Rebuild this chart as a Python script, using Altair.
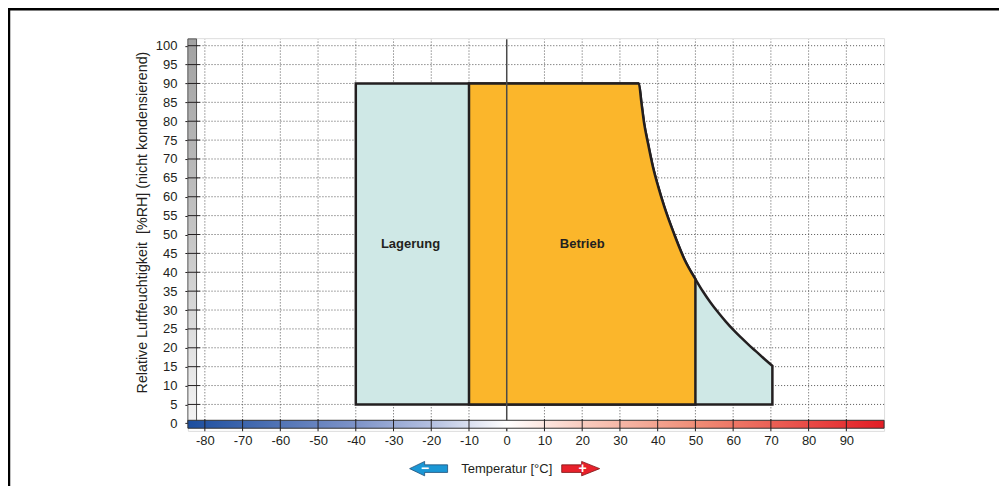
import altair as alt
import pandas as pd

# ---- data ----
x_ticks = [-80, -70, -60, -50, -40, -30, -20, -10, 0, 10, 20, 30, 40, 50, 60, 70, 80, 90]
y_ticks = [0, 5, 10, 15, 20, 25, 30, 35, 40, 45, 50, 55, 60, 65, 70, 75, 80, 85, 90, 95, 100]

# Lagerung (storage) upper boundary: temperature [°C] / rel. humidity [%RH]
lager_t = [-40, 35, 35.7, 36.4, 37.4, 38.7, 40.1, 41.7, 44.4, 47.1, 50.0,
           52.0, 54.0, 56.0, 58.0, 60.0, 62.0, 64.0, 66.0, 68.0, 70.4]
lager_rh = [90, 90, 84.8, 79.5, 74.3, 68.1, 62.8, 57.5, 50.0, 43.4, 38.2,
            34.9, 32.0, 29.4, 27.0, 24.8, 22.8, 20.9, 19.1, 17.3, 15.2]
# Betrieb (operation) upper boundary
betrieb_t = [-10, 35, 35.7, 36.4, 37.4, 38.7, 40.1, 41.7, 44.4, 47.1, 50.0]
betrieb_rh = [90, 90, 84.8, 79.5, 74.3, 68.1, 62.8, 57.5, 50.0, 43.4, 38.2]
rh_min = 5

region_labels = ["Lagerung", "Betrieb"]
region_label_t = [-25.5, 20.0]
region_label_rh = [47.4, 47.4]

X_MIN, X_MAX = -84.5, 100
Y_MIN, Y_MAX = -2, 102

FONT = "Liberation Sans, Arial, Helvetica, sans-serif"
INK = "#231f20"

xs = alt.Scale(domain=[X_MIN, X_MAX], nice=False, zero=False)
ys = alt.Scale(domain=[Y_MIN, Y_MAX], nice=False, zero=False)

xaxis = alt.Axis(values=x_ticks, ticks=False, domain=False, grid=False, title=None,
                 labelExpr="'' + datum.value", labelFont=FONT, labelFontSize=13,
                 labelColor=INK, labelPadding=4)
yaxis = alt.Axis(values=y_ticks, tickSize=3, tickColor=INK, domain=False, grid=False,
                 labelExpr="'' + datum.value", labelFont=FONT, labelFontSize=13,
                 labelColor=INK, labelPadding=8,
                 title="Relative Luftfeuchtigkeit \u00a0[%RH] (nicht kondensierend)",
                 titleFont=FONT, titleFontSize=14.3, titleFontWeight="normal", titleColor=INK,
                 titleX=-45, titleY=184, titleAngle=270, titleAlign="center",
                 titleBaseline="middle")


def X(f):
    return alt.X(f, type="quantitative", scale=xs, axis=xaxis)


def Y(f):
    return alt.Y(f, type="quantitative", scale=ys, axis=yaxis)


grid_dash = [1, 2]

# vertical dotted grid
vgrid_df = pd.DataFrame({"t": [t for t in x_ticks if t != 0]})
vgrid_df["y0"] = 0.8
vgrid_df["y1"] = 101.7
vgrid = alt.Chart(vgrid_df).mark_rule(color="#555555", strokeWidth=1, strokeDash=grid_dash).encode(
    x=X("t"), y=Y("y0"), y2="y1")

# horizontal dotted grid
hgrid_df = pd.DataFrame({"rh": [v for v in y_ticks if v != 0]})
hgrid_df["x0"] = -82.2
hgrid_df["x1"] = X_MAX
hgrid = alt.Chart(hgrid_df).mark_rule(color="#555555", strokeWidth=1, strokeDash=grid_dash).encode(
    x=X("x0"), x2="x1", y=Y("rh"))

# regions
lager_df = pd.DataFrame({"t": lager_t, "rh": lager_rh})
lager_df["base"] = rh_min
lager = alt.Chart(lager_df).mark_area(fill="#cfe8e6", stroke=INK, strokeWidth=2.5,
                                      strokeJoin="miter", interpolate="monotone").encode(
    x=X("t"), y=Y("rh"), y2="base")

betrieb_df = pd.DataFrame({"t": betrieb_t, "rh": betrieb_rh})
betrieb_df["base"] = rh_min
betrieb = alt.Chart(betrieb_df).mark_area(fill="#fbb62b", stroke=INK, strokeWidth=2.5,
                                          strokeJoin="miter", interpolate="monotone").encode(
    x=X("t"), y=Y("rh"), y2="base")

# zero line
zero_df = pd.DataFrame({"t": [0], "y0": [-2.1], "y1": [101.7]})
zero = alt.Chart(zero_df).mark_rule(color="#4a4a4a", strokeWidth=1.5).encode(
    x=X("t"), y=Y("y0"), y2="y1")

# region labels
lab_df = pd.DataFrame({"label": region_labels, "t": region_label_t, "rh": region_label_rh})
labels = alt.Chart(lab_df).mark_text(font=FONT, fontSize=13, fontWeight="bold", color=INK).encode(
    x=X("t"), y=Y("rh"), text="label")

# grey humidity bar on the left
gray_grad = alt.Gradient(gradient="linear",
                         stops=[alt.GradientStop(color="#a2a2a2", offset=0),
                                alt.GradientStop(color="#c4c4c4", offset=0.5),
                                alt.GradientStop(color="#f4f4f4", offset=1)],
                         x1=0, x2=0, y1=0, y2=1)
gbar_df = pd.DataFrame({"x0": [X_MIN], "x1": [-82.2], "y0": [0], "y1": [101.8]})
gbar = alt.Chart(gbar_df).mark_rect(fill=gray_grad, stroke="#555555", strokeWidth=1).encode(
    x=X("x0"), x2="x1", y=Y("y0"), y2="y1")

# temperature colour bar
temp_grad = alt.Gradient(gradient="linear",
                         stops=[alt.GradientStop(color="#1c4e9f", offset=0),
                                alt.GradientStop(color="#7d93c8", offset=0.24),
                                alt.GradientStop(color="#b4c0e0", offset=0.35),
                                alt.GradientStop(color="#ffffff", offset=0.458),
                                alt.GradientStop(color="#f9cdc0", offset=0.565),
                                alt.GradientStop(color="#f08d76", offset=0.73),
                                alt.GradientStop(color="#e31d25", offset=1)],
                         x1=0, x2=1, y1=0, y2=0)
tbar_df = pd.DataFrame({"x0": [X_MIN], "x1": [X_MAX], "y0": [-1.3], "y1": [0.8]})
tbar = alt.Chart(tbar_df).mark_rect(fill=temp_grad, stroke="#333333", strokeWidth=1).encode(
    x=X("x0"), x2="x1", y=Y("y0"), y2="y1")

# tick marks crossing the bars
xt_df = pd.DataFrame({"t": [t for t in x_ticks if t != 0]})
xt_df["y0"] = 1.1
xt_df["y1"] = -2.1
xticks = alt.Chart(xt_df).mark_rule(color=INK, strokeWidth=1).encode(
    x=X("t"), y=Y("y0"), y2="y1")

yt_df = pd.DataFrame({"rh": [v for v in y_ticks if v != 0]})
yt_df["x0"] = X_MIN
yt_df["x1"] = -81.3
yticks = alt.Chart(yt_df).mark_rule(color=INK, strokeWidth=1).encode(
    x=X("x0"), x2="x1", y=Y("rh"))

# temperature legend: arrows and title
left_path = "M -1 0 L -0.21 -0.38 L -0.21 -0.2 L 1 -0.2 L 1 0.2 L -0.21 0.2 L -0.21 0.38 Z"
right_path = "M 1 0 L 0.05 -0.38 L 0.05 -0.2 L -1 -0.2 L -1 0.2 L 0.05 0.2 L 0.05 0.38 Z"
arrow_y = -12.0
la_df = pd.DataFrame({"t": [-20.7], "rh": [arrow_y]})
ra_df = pd.DataFrame({"t": [19.6], "rh": [arrow_y]})
larrow = alt.Chart(la_df).mark_point(shape=left_path, size=1444, filled=True, fill="#1b97d5",
                                     stroke="#1f4f78", strokeWidth=0.8, opacity=1).encode(
    x=X("t"), y=Y("rh"))
rarrow = alt.Chart(ra_df).mark_point(shape=right_path, size=1444, filled=True, fill="#e8212b",
                                     stroke="#7a1515", strokeWidth=0.8, opacity=1).encode(
    x=X("t"), y=Y("rh"))
sign_df = pd.DataFrame({"t": [-21.7, 20.1], "rh": [arrow_y, arrow_y], "s": ["\u2212", "+"]})
signs = alt.Chart(sign_df).mark_text(font=FONT, fontSize=14, fontWeight="bold", color="white").encode(
    x=X("t"), y=Y("rh"), text="s")
tt_df = pd.DataFrame({"t": [0], "rh": [arrow_y], "s": ["Temperatur [°C]"]})
ttitle = alt.Chart(tt_df).mark_text(font=FONT, fontSize=13, color=INK).encode(
    x=X("t"), y=Y("rh"), text="s")

# frame (top and left lines)
fr_df = pd.DataFrame({"a": [0]})
frame_left = alt.Chart(fr_df).mark_rule(color="black", strokeWidth=2.5).encode(
    x=alt.value(-179), y=alt.value(-29), y2=alt.value(480))
frame_top = alt.Chart(fr_df).mark_rule(color="black", strokeWidth=2.5).encode(
    x=alt.value(-180), x2=alt.value(900), y=alt.value(-29))

chart = alt.layer(
    vgrid, hgrid, lager, betrieb, zero, labels, gbar, tbar, xticks, yticks,
    larrow, rarrow, signs, ttitle, frame_left, frame_top
).properties(
    width=696.7, height=393,
    autosize=alt.AutoSizeParams(type="none"),
    padding={"left": 180, "top": 30, "right": 115, "bottom": 55},
).configure_view(stroke=None).configure(background="white")

chart.save("out.html", embed_options={"renderer": "svg", "actions": False})
